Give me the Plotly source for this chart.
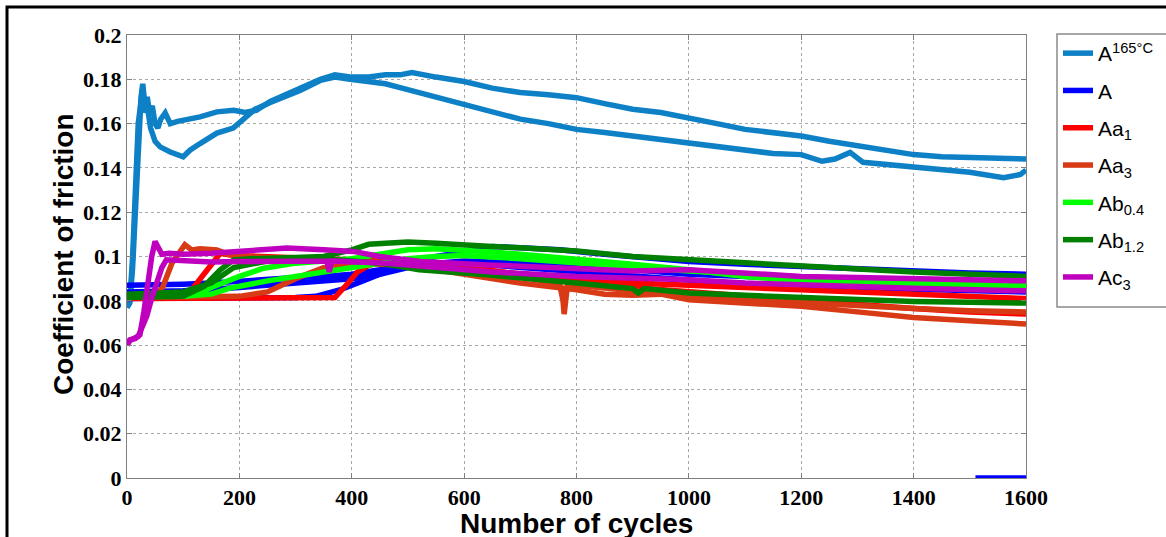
import plotly.graph_objects as go

# ---------------- data ----------------
series_names = ["A<sup>165°C</sup>", "A", "Aa<sub>1</sub>", "Aa<sub>3</sub>",
                "Ab<sub>0.4</sub>", "Ab<sub>1.2</sub>", "Ac<sub>3</sub>"]
series_colors = ["#0E80C6", "#0000FF", "#FF0000", "#D83A15",
                 "#00FF00", "#008000", "#BF00BF"]

# A 165°C
a165_r1_x = [0, 5, 10, 15, 20, 25, 28, 32, 36, 40, 45, 50, 55, 60, 68, 77, 90, 110, 130, 160, 190, 210,
             230, 255, 280, 308, 344, 370, 397, 430, 460, 486, 507, 550, 600, 650, 700, 750, 800, 850,
             900, 950, 1000, 1050, 1100, 1150, 1200, 1250, 1300, 1350, 1400, 1450, 1500, 1550, 1600]
a165_r1_y = [0.077, 0.079, 0.095, 0.125, 0.155, 0.172, 0.178, 0.168, 0.172, 0.165, 0.168, 0.160, 0.158,
             0.162, 0.1648, 0.160, 0.161, 0.162, 0.163, 0.1653, 0.166, 0.165, 0.166, 0.170, 0.173, 0.176,
             0.180, 0.182, 0.181, 0.181, 0.182, 0.182, 0.183, 0.181, 0.179, 0.176, 0.174, 0.173, 0.1717,
             0.169, 0.1665, 0.165, 0.1627, 0.160, 0.1574, 0.156, 0.1544, 0.152, 0.150, 0.148, 0.146,
             0.145, 0.1447, 0.144, 0.144]
a165_r2_x = [0, 5, 10, 15, 20, 25, 28, 32, 36, 42, 50, 59, 77, 100, 112, 130, 160, 189, 210, 228, 255,
             280, 308, 344, 370, 397, 430, 460, 486, 550, 600, 650, 700, 750, 800, 850, 900, 950, 1000,
             1050, 1100, 1150, 1200, 1237, 1260, 1287, 1310, 1350, 1400, 1450, 1500, 1560, 1590, 1600]
a165_r2_y = [0.077, 0.080, 0.100, 0.135, 0.160, 0.170, 0.176, 0.165, 0.168, 0.158, 0.152, 0.1495,
             0.1472, 0.145, 0.148, 0.151, 0.1557, 0.158, 0.1625, 0.1665, 0.1695, 0.172, 0.175, 0.1795,
             0.181, 0.180, 0.179, 0.178, 0.1762, 0.172, 0.1687, 0.165, 0.162, 0.160, 0.1574, 0.156,
             0.1544, 0.153, 0.1514, 0.1495, 0.1477, 0.1465, 0.146, 0.143, 0.144, 0.147, 0.1425, 0.1415,
             0.140, 0.139, 0.138, 0.1356, 0.137, 0.139]

# A
a_r1_x = [0, 50, 100, 150, 200, 250, 300, 350, 400, 450, 500, 550, 600, 650, 700, 770, 850, 1000,
          1100, 1200, 1300, 1400, 1500, 1600]
a_r1_y = [0.087, 0.087, 0.0875, 0.088, 0.089, 0.090, 0.0905, 0.091, 0.092, 0.094, 0.097, 0.100, 0.102,
          0.1045, 0.104, 0.103, 0.101, 0.0977, 0.0965, 0.0955, 0.094, 0.093, 0.0925, 0.092]
a_r2_x = [0, 100, 200, 300, 336, 380, 420, 460, 500, 550, 600, 700, 800, 900, 1000, 1100, 1200, 1300,
          1400, 1500, 1600]
a_r2_y = [0.081, 0.081, 0.081, 0.0815, 0.082, 0.085, 0.089, 0.093, 0.0955, 0.097, 0.097, 0.095, 0.093,
          0.091, 0.089, 0.0875, 0.0865, 0.086, 0.0855, 0.085, 0.084]
a_r3_x = [0, 100, 200, 300, 400, 450, 500, 550, 600, 700, 800, 900, 1000, 1100, 1200, 1300, 1400, 1500,
          1505, 1510, 1600]
a_r3_y = [0.084, 0.0845, 0.086, 0.088, 0.090, 0.092, 0.095, 0.097, 0.098, 0.097, 0.095, 0.094, 0.092,
          0.091, 0.0895, 0.088, 0.087, 0.086, None, 0.0, 0.0]

# Aa1
aa1_r1_x = [0, 50, 100, 112, 130, 150, 166, 190, 250, 300, 400, 450, 500, 600, 700, 800, 900, 1000,
            1100, 1200, 1300, 1400, 1500, 1600]
aa1_r1_y = [0.082, 0.082, 0.0825, 0.084, 0.090, 0.097, 0.1015, 0.1005, 0.100, 0.0995, 0.099, 0.098,
            0.097, 0.095, 0.092, 0.0895, 0.088, 0.087, 0.086, 0.0855, 0.0842, 0.083, 0.082, 0.081]
aa1_r2_x = [0, 100, 200, 300, 370, 390, 410, 430, 450, 500, 550, 600, 700, 800, 900, 1000, 1100, 1200,
            1300, 1400, 1500, 1600]
aa1_r2_y = [0.081, 0.081, 0.081, 0.081, 0.0815, 0.087, 0.093, 0.096, 0.097, 0.097, 0.096, 0.095, 0.092,
            0.0885, 0.086, 0.084, 0.082, 0.080, 0.078, 0.0765, 0.075, 0.074]

# Aa3
aa3_r1_x = [0, 40, 55, 64, 80, 95, 103, 115, 130, 160, 180, 200, 250, 300, 400, 500, 600, 700, 770,
            776, 778, 780, 784, 800, 850, 900, 950, 1000, 1100, 1200, 1300, 1400, 1500, 1600]
aa3_r1_y = [0.082, 0.082, 0.083, 0.0865, 0.097, 0.103, 0.1053, 0.103, 0.1035, 0.103, 0.101, 0.100,
            0.0995, 0.099, 0.098, 0.097, 0.094, 0.091, 0.0875, 0.080, 0.074, 0.080, 0.087, 0.087,
            0.0855, 0.0845, 0.0835, 0.082, 0.0805, 0.079, 0.0775, 0.0765, 0.0755, 0.075]
aa3_r2_x = [0, 100, 200, 250, 300, 350, 400, 500, 600, 700, 800, 850, 900, 950, 1000, 1100, 1200, 1300,
            1400, 1500, 1600]
aa3_r2_y = [0.0815, 0.0815, 0.082, 0.084, 0.090, 0.095, 0.097, 0.096, 0.092, 0.088, 0.085, 0.083,
            0.0825, 0.083, 0.0805, 0.079, 0.0775, 0.075, 0.0725, 0.071, 0.0695]

# Ab0.4
ab04_r1_x = [0, 50, 100, 124, 150, 200, 243, 300, 350, 400, 450, 500, 550, 600, 650, 700, 800, 900,
             1000, 1100, 1200, 1300, 1400, 1500, 1600]
ab04_r1_y = [0.082, 0.082, 0.082, 0.083, 0.086, 0.091, 0.0947, 0.097, 0.098, 0.099, 0.101, 0.103,
             0.1035, 0.103, 0.102, 0.101, 0.099, 0.0965, 0.094, 0.091, 0.089, 0.087, 0.086, 0.0857,
             0.0855]
ab04_r2_x = [0, 100, 150, 183, 250, 300, 397, 450, 500, 550, 600, 700, 800, 900, 1000, 1100, 1200,
             1300, 1400, 1500, 1600]
ab04_r2_y = [0.082, 0.082, 0.083, 0.0857, 0.089, 0.091, 0.0947, 0.097, 0.099, 0.100, 0.1005, 0.099,
             0.097, 0.0955, 0.0935, 0.092, 0.0905, 0.089, 0.088, 0.0875, 0.087]

# Ab1.2
ab12_r1_x = [0, 50, 100, 137, 166, 190, 220, 300, 350, 400, 430, 460, 500, 550, 600, 650, 700, 800,
             900, 1000, 1100, 1200, 1300, 1400, 1500, 1600]
ab12_r1_y = [0.0815, 0.0815, 0.082, 0.0865, 0.094, 0.0985, 0.099, 0.0995, 0.100, 0.103, 0.1055, 0.106,
             0.1065, 0.106, 0.105, 0.1045, 0.104, 0.1025, 0.100, 0.0985, 0.097, 0.0955, 0.094, 0.093,
             0.092, 0.091]
ab12_r2_x = [0, 100, 150, 190, 250, 350, 450, 520, 640, 700, 800, 900, 910, 920, 1000, 1100, 1200,
             1300, 1400, 1500, 1600]
ab12_r2_y = [0.083, 0.084, 0.088, 0.095, 0.098, 0.099, 0.097, 0.094, 0.0917, 0.0905, 0.088, 0.0855,
             0.0835, 0.0855, 0.0835, 0.0825, 0.0815, 0.0805, 0.0797, 0.0793, 0.079]

# Ac3
ac3_r1_x = [0, 5, 15, 23, 30, 38, 44, 50, 55, 62, 75, 100, 150, 200, 285, 350, 403, 450, 522, 641, 700,
            795, 900, 1000, 1100, 1200, 1300, 1400, 1500, 1600]
ac3_r1_y = [0.060, 0.0624, 0.063, 0.0647, 0.075, 0.090, 0.100, 0.1068, 0.104, 0.101, 0.1015, 0.101,
            0.1015, 0.1023, 0.1038, 0.103, 0.1023, 0.100, 0.0977, 0.0962, 0.0955, 0.0947, 0.0935,
            0.094, 0.0925, 0.091, 0.0905, 0.090, 0.0895, 0.089]
ac3_r2_x = [0, 5, 20, 35, 45, 55, 62, 70, 100, 150, 200, 300, 356, 360, 364, 463, 550, 650, 800, 900,
            1000, 1100, 1200, 1300, 1400, 1500, 1600]
ac3_r2_y = [0.060, 0.062, 0.064, 0.073, 0.082, 0.0895, 0.095, 0.0985, 0.098, 0.0975, 0.0977, 0.0978,
            0.098, 0.093, 0.098, 0.097, 0.095, 0.093, 0.091, 0.0905, 0.0895, 0.088, 0.087, 0.0865,
            0.0857, 0.085, 0.0845]

runs = [
    [(a165_r1_x, a165_r1_y), (a165_r2_x, a165_r2_y)],
    [(a_r1_x, a_r1_y), (a_r2_x, a_r2_y), (a_r3_x, a_r3_y)],
    [(aa1_r1_x, aa1_r1_y), (aa1_r2_x, aa1_r2_y)],
    [(aa3_r1_x, aa3_r1_y), (aa3_r2_x, aa3_r2_y)],
    [(ab04_r1_x, ab04_r1_y), (ab04_r2_x, ab04_r2_y)],
    [(ab12_r1_x, ab12_r1_y), (ab12_r2_x, ab12_r2_y)],
    [(ac3_r1_x, ac3_r1_y), (ac3_r2_x, ac3_r2_y)],
]

x_ticks = [0, 200, 400, 600, 800, 1000, 1200, 1400, 1600]
y_ticks = [0, 0.02, 0.04, 0.06, 0.08, 0.1, 0.12, 0.14, 0.16, 0.18, 0.2]
x_title = "Number of cycles"
y_title = "Coefficient of friction"

# ---------------- figure ----------------
W, H = 1166, 537
ML, MR, MT, MB = 127, 140, 35, 59
PW, PH = W - ML - MR, H - MT - MB


def px_x(p):
    return (p - ML) / PW


def px_y(p):
    return (H - MB - p) / PH


fig = go.Figure()
for name, color, group in zip(series_names, series_colors, runs):
    for i, (xs, ys) in enumerate(group):
        fig.add_trace(go.Scatter(
            x=xs, y=ys, mode="lines", name=name, legendgroup=name,
            showlegend=(i == 0), connectgaps=False,
            line=dict(color=color, width=5.5),
        ))

axis_common = dict(
    showline=True, linecolor="#808080", linewidth=1, mirror="ticks",
    ticks="inside", ticklen=5, tickcolor="#808080",
    showgrid=True, gridcolor="#a8a8a8", gridwidth=1, griddash="dot",
    zeroline=False,
)

fig.update_xaxes(range=[0, 1600], tickvals=x_ticks,
                 tickfont=dict(family="Liberation Serif", size=22, color="black", weight="bold"),
                 **axis_common)
fig.update_yaxes(range=[0, 0.2], tickvals=y_ticks,
                 tickfont=dict(family="Liberation Serif", size=22, color="black", weight="bold"),
                 **axis_common)

fig.add_annotation(text=y_title, xref="paper", yref="paper", x=px_x(63), y=px_y(254),
                   textangle=-90, showarrow=False, xanchor="center", yanchor="middle",
                   font=dict(family="Liberation Sans", size=28, color="black", weight="bold"))
fig.add_annotation(text=x_title, xref="paper", yref="paper", x=px_x(576), y=px_y(523),
                   showarrow=False, xanchor="center", yanchor="middle",
                   font=dict(family="Liberation Sans", size=28, color="black", weight="bold"))

# outer frame (top and left visible) and legend box
fig.add_shape(type="rect", xref="paper", yref="paper",
              x0=px_x(7), x1=px_x(1200), y0=px_y(7), y1=px_y(560),
              line=dict(color="black", width=3), fillcolor="rgba(0,0,0,0)", layer="above")
fig.add_shape(type="rect", xref="paper", yref="paper",
              x0=px_x(1057), x1=px_x(1200), y0=px_y(34), y1=px_y(307),
              line=dict(color="#8a8a8a", width=1.5), fillcolor="white", layer="below")

fig.update_layout(
    width=W, height=H,
    margin=dict(l=ML, r=MR, t=MT, b=MB, autoexpand=False),
    paper_bgcolor="white", plot_bgcolor="white",
    showlegend=True,
    legend=dict(
        x=px_x(1058), y=px_y(33), xanchor="left", yanchor="top",
        bgcolor="rgba(0,0,0,0)", borderwidth=0, maxheight=480,
        font=dict(family="Liberation Sans", size=21, color="black"),
        traceorder="grouped", tracegroupgap=7, itemwidth=30,
    ),
)

fig.write_html("out.html", config={"displayModeBar": False},
               post_script="document.body.style.margin='0';")
